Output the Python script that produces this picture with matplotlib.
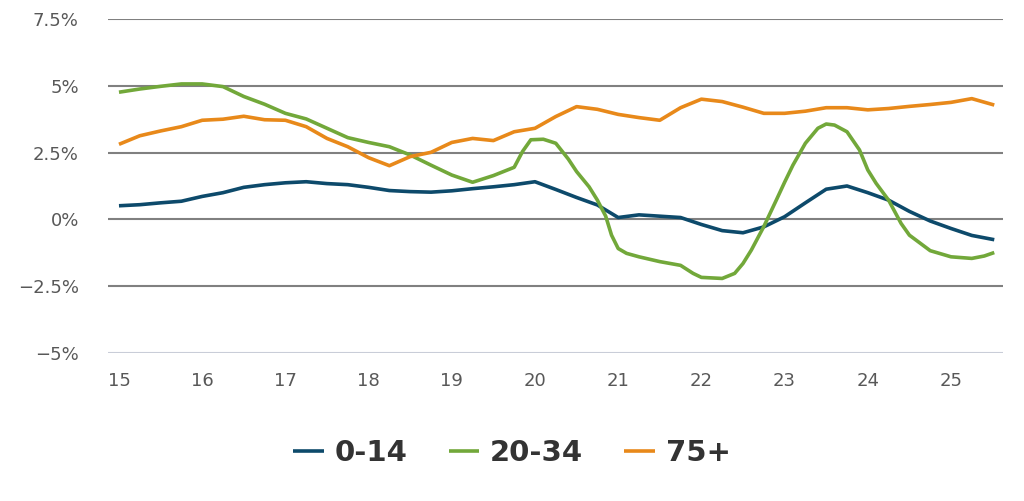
import matplotlib
matplotlib.use("Agg")
import matplotlib.pyplot as plt

years = [15.0, 15.25, 15.5, 15.75, 16.0, 16.25, 16.5, 16.75, 17.0, 17.25, 17.5, 17.75,
         18.0, 18.25, 18.5, 18.75, 19.0, 19.25, 19.5, 19.75, 20.0, 20.25, 20.5, 20.75,
         21.0, 21.25, 21.5, 21.75, 22.0, 22.25, 22.5, 22.75, 23.0, 23.25, 23.5, 23.75,
         24.0, 24.25, 24.5, 24.75, 25.0, 25.25, 25.52]

age_0_14 = [0.51, 0.55, 0.62, 0.68, 0.86, 1.0, 1.2, 1.3, 1.37, 1.41, 1.34, 1.3,
            1.2, 1.08, 1.04, 1.02, 1.07, 1.15, 1.22, 1.3, 1.41, 1.12, 0.82, 0.54,
            0.07, 0.17, 0.12, 0.07, -0.19, -0.42, -0.5, -0.28, 0.1, 0.62, 1.13, 1.25,
            1.0, 0.72, 0.3, -0.06, -0.34, -0.6, -0.76]

age_75_plus = [2.81, 3.13, 3.31, 3.47, 3.71, 3.75, 3.86, 3.73, 3.71, 3.47, 3.03, 2.72,
               2.31, 2.01, 2.35, 2.51, 2.88, 3.03, 2.95, 3.28, 3.41, 3.85, 4.22, 4.12,
               3.93, 3.81, 3.71, 4.18, 4.5, 4.41, 4.2, 3.97, 3.97, 4.05, 4.18, 4.18,
               4.1, 4.15, 4.23, 4.3, 4.38, 4.52, 4.28]

years_20_34 = [15.0, 15.25, 15.5, 15.75, 16.0, 16.25, 16.5, 16.75, 17.0, 17.25, 17.5, 17.75,
               18.0, 18.25, 18.5, 18.75, 19.0, 19.25, 19.5, 19.75, 19.85, 19.95, 20.1, 20.25,
               20.4, 20.5, 20.65, 20.75, 20.85, 20.92, 21.0, 21.1, 21.25, 21.5, 21.75, 21.9,
               22.0, 22.25, 22.4, 22.5, 22.6, 22.75, 22.9, 23.0, 23.1, 23.25, 23.4, 23.5,
               23.6, 23.75, 23.9, 24.0, 24.1, 24.25, 24.4, 24.5, 24.75, 25.0, 25.25, 25.4,
               25.52]

age_20_34 = [4.76, 4.88, 4.98, 5.07, 5.07, 4.97, 4.6, 4.31, 3.97, 3.76, 3.41, 3.06,
             2.88, 2.72, 2.41, 2.03, 1.66, 1.39, 1.64, 1.95, 2.54, 2.98, 3.0, 2.85,
             2.26, 1.79, 1.22, 0.72, 0.12, -0.59, -1.09, -1.27, -1.4, -1.58, -1.72, -2.02,
             -2.17, -2.21, -2.02, -1.65, -1.15, -0.27, 0.72, 1.39, 2.03, 2.85, 3.41, 3.57,
             3.53, 3.28, 2.6, 1.85, 1.35, 0.72, -0.15, -0.59, -1.17, -1.4, -1.46, -1.37,
             -1.24]

series_names = ["0-14", "20-34", "75+"]
colors = ["#0d4a6b", "#72a83a", "#e8891a"]

y_ticks = [-5, -2.5, 0, 2.5, 5, 7.5]
y_labels = ["\u22125%", "\u22122.5%", "0%", "2.5%", "5%", "7.5%"]
x_ticks = list(range(15, 26))
x_labels = [str(v) for v in x_ticks]

fig = plt.figure(figsize=(10.24, 5.01), dpi=100)
ax = fig.add_axes([108/1024, 1 - 353/501, (1003 - 108)/1024, (353 - 19)/501])

for t in y_ticks:
    if t == -5:
        ax.axhline(t, color="#c9cdd8", lw=1.5, zorder=1)
    else:
        ax.axhline(t, color="#808080", lw=1.5, zorder=1)

series = [(years, age_0_14), (years_20_34, age_20_34), (years, age_75_plus)]
for (xs, vals), name, c in zip(series, series_names, colors):
    ax.plot(xs, vals, color=c, lw=2.6, label=name, solid_capstyle="butt",
            solid_joinstyle="round", zorder=3)

ax.set_xlim(14.868, 25.625)
ax.set_ylim(-5, 7.5)
ax.set_yticks(y_ticks)
ax.set_yticklabels(y_labels)
ax.set_xticks(x_ticks)
ax.set_xticklabels(x_labels)
ax.tick_params(axis="y", length=0, pad=21, labelsize=13, labelcolor="#585858")
ax.tick_params(axis="x", length=0, pad=14, labelsize=13, labelcolor="#585858")
for s in ax.spines.values():
    s.set_visible(False)

leg = fig.legend(loc="center", bbox_to_anchor=(0.5, 1 - 453/501), ncol=3, frameon=False,
                 prop={"size": 21, "weight": "bold"}, handlelength=1.05,
                 handletextpad=0.38, columnspacing=1.4)
for t in leg.get_texts():
    t.set_color("#333333")
for h in leg.get_lines():
    h.set_linewidth(2.6)

fig.savefig("out.png", dpi=100)
